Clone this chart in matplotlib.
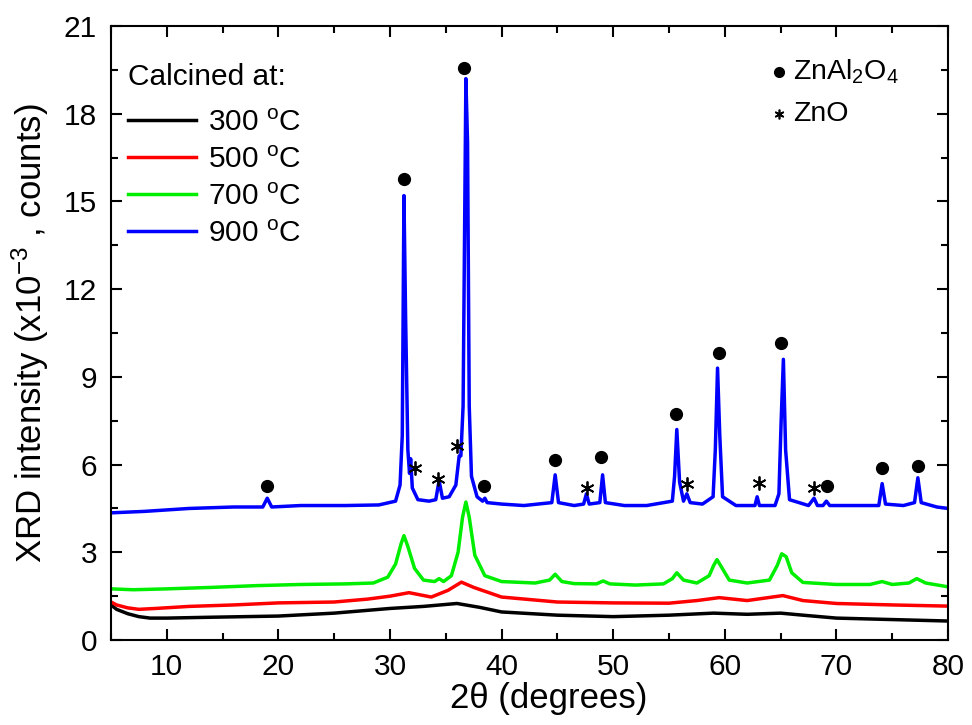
import matplotlib
matplotlib.use("Agg")
import matplotlib.pyplot as plt

plt.rcParams['font.family'] = ['Liberation Sans', 'DejaVu Sans']
plt.rcParams['mathtext.fontset'] = 'custom'
plt.rcParams['mathtext.rm'] = 'Liberation Sans'
plt.rcParams['mathtext.it'] = 'Liberation Sans:italic'

# XRD patterns (2theta in degrees, intensity x10^-3 counts)
x_300 = [5, 5.5, 6.5, 7.5, 8.5, 10, 14, 20, 25, 30, 33, 36, 38, 40, 45, 50, 55, 59, 62, 65, 67, 70, 75, 80]
y_300 = [1.2, 1.05, 0.9, 0.8, 0.75, 0.75, 0.78, 0.82, 0.92, 1.08, 1.15, 1.25, 1.12, 0.96, 0.85, 0.8, 0.85, 0.92, 0.88, 0.92, 0.85, 0.75, 0.7, 0.65]

x_500 = [5, 5.5, 6.5, 7.5, 9, 12, 16, 20, 25, 28, 30, 31.7, 33.7, 35.2, 36.4, 37.5, 40, 45, 50, 55, 57.5, 59.5, 62, 65.2, 67, 70, 75, 80]
y_500 = [1.3, 1.2, 1.1, 1.05, 1.08, 1.15, 1.2, 1.27, 1.3, 1.4, 1.5, 1.62, 1.47, 1.7, 1.98, 1.8, 1.47, 1.3, 1.27, 1.26, 1.35, 1.45, 1.35, 1.52, 1.35, 1.25, 1.2, 1.16]

x_700 = [5, 7, 10, 14, 18, 22, 26, 28.5, 29.8, 30.5, 31.0, 31.25, 31.6, 32.2, 33, 34.0, 34.4, 34.8, 35.5, 36.1, 36.5, 36.8,
         37.1, 37.6, 38.5, 40, 43, 44.3, 44.8, 45.4, 46.5, 48.5, 49.1, 49.7, 52, 54.5, 55.3, 55.7, 56.3, 57.5, 58.6, 59.0,
         59.3, 59.7, 60.4, 62, 64, 64.7, 65.1, 65.5, 66.0, 67, 70, 73, 74.1, 75, 76.5, 77.2, 78, 80]
y_700 = [1.75, 1.72, 1.75, 1.8, 1.86, 1.9, 1.92, 1.95, 2.15, 2.6, 3.3, 3.57, 3.2, 2.45, 2.05, 2.0, 2.1, 2.0, 2.2, 3.0, 4.2, 4.72,
         4.2, 2.9, 2.2, 2.0, 1.95, 2.05, 2.25, 2.0, 1.93, 1.92, 2.02, 1.92, 1.88, 1.92, 2.1, 2.3, 2.05, 1.95, 2.2, 2.55,
         2.75, 2.5, 2.05, 1.95, 2.05, 2.55, 2.95, 2.85, 2.3, 1.97, 1.9, 1.9, 2.0, 1.9, 1.95, 2.1, 1.95, 1.82]

x_900 = [5, 8, 12, 16, 18.6, 19.0, 19.4, 22, 26, 29, 30.5, 30.9, 31.1, 31.25, 31.4, 31.6, 31.75, 31.85, 32.0, 32.5, 33.5,
         34.1, 34.4, 34.7, 35.3, 35.9, 36.2, 36.35, 36.55, 36.8, 36.95, 37.1, 37.3, 37.8, 38.3, 38.5, 38.7, 40, 42, 44.5,
         44.8, 45.1, 46.5, 47.35, 47.6, 47.85, 48.8, 49.05, 49.3, 51, 53, 55.3, 55.5, 55.7, 55.95, 56.3, 56.6, 56.9, 58,
         58.95, 59.15, 59.35, 59.55, 59.8, 61, 62.7, 62.9, 63.1, 64.5, 64.85, 65.05, 65.25, 65.45, 65.8, 67.5, 68.0, 68.3,
         68.8, 69.1, 69.4, 71, 73.8, 74.1, 74.4, 76, 77.0, 77.3, 77.6, 79, 80]
y_900 = [4.35, 4.4, 4.5, 4.55, 4.55, 4.85, 4.55, 4.6, 4.6, 4.62, 4.75, 5.3, 7.0, 15.2, 11.0, 6.5, 5.7, 6.2, 5.2, 4.8, 4.75,
         4.8, 5.45, 4.85, 4.9, 5.3, 6.3, 6.3, 8.0, 19.2, 17.0, 8.0, 5.6, 4.9, 4.75, 4.85, 4.7, 4.65, 4.6, 4.7,
         5.65, 4.7, 4.6, 4.65, 5.0, 4.65, 4.7, 5.65, 4.7, 4.6, 4.6, 4.75, 5.6, 7.2, 5.4, 4.75, 5.0, 4.7, 4.65,
         4.9, 6.5, 9.3, 7.0, 4.9, 4.6, 4.6, 4.9, 4.6, 4.6, 5.0, 7.5, 9.6, 6.5, 4.8, 4.6, 4.85, 4.6,
         4.6, 4.75, 4.6, 4.6, 4.6, 5.35, 4.65, 4.6, 4.7, 5.55, 4.7, 4.55, 4.5]

# phase markers
spinel_x = [19.0, 31.25, 36.65, 38.4, 44.8, 48.9, 55.6, 59.5, 65.0, 69.2, 74.1, 77.3]
spinel_y = [5.27, 15.77, 19.56, 5.27, 6.16, 6.26, 7.73, 9.8, 10.16, 5.27, 5.88, 5.95]
zno_x = [32.2, 34.3, 36.0, 47.65, 56.6, 63.05, 68.0]
zno_y = [5.88, 5.5, 6.63, 5.2, 5.33, 5.37, 5.2]

labels = ['300 $\\mathregular{^{o}}$C', '500 $\\mathregular{^{o}}$C', '700 $\\mathregular{^{o}}$C', '900 $\\mathregular{^{o}}$C']
colors = ['black', 'red', '#00ee00', 'blue']

fig = plt.figure(figsize=(9.72, 7.25), dpi=100)
ax = fig.add_axes([0.1142, 0.1172, 0.8611, 0.8469])

for xs, ys, lab, c in zip([x_300, x_500, x_700, x_900], [y_300, y_500, y_700, y_900], labels, colors):
    ax.plot(xs, ys, color=c, lw=2.5, label=lab)

ax.plot(spinel_x, spinel_y, 'o', color='black', ms=8.5, ls='none')
ax.plot(zno_x, zno_y, marker=(6, 2, 0), color='black', ms=10, mew=1.3, ls='none')

# phase key, top right
ax.plot([64.86], [19.43], 'o', color='black', ms=7)
ax.text(66.1, 19.43, 'ZnAl$\\mathregular{_2}$O$\\mathregular{_4}$', fontsize=20.5, va='center', ha='left')
ax.plot([64.86], [17.99], marker=(6, 2, 0), color='black', ms=7, mew=1.2)
ax.text(66.1, 17.99, 'ZnO', fontsize=20.5, va='center', ha='left')

ax.set_xlim(5, 80)
ax.set_ylim(0, 21)
ax.set_xticks([10, 20, 30, 40, 50, 60, 70, 80])
ax.set_xticks([5, 15, 25, 35, 45, 55, 65, 75], minor=True)
ax.set_yticks([0, 3, 6, 9, 12, 15, 18, 21])
ax.set_yticks([1.5, 4.5, 7.5, 10.5, 13.5, 16.5, 19.5], minor=True)
ax.tick_params(which='both', direction='in', top=True, right=True, width=1.5, labelsize=21.5)
ax.tick_params(which='major', length=8)
ax.tick_params(which='minor', length=5)
ax.tick_params(axis='x', pad=9)
ax.tick_params(axis='y', pad=10)
for s in ax.spines.values():
    s.set_linewidth(1.5)

ax.set_xlabel('2\u03b8 (degrees)', fontsize=25)
ax.xaxis.set_label_coords(0.523, -0.068)
ax.set_ylabel('XRD intensity (x10$\\mathregular{^{-3}}$ , counts)', fontsize=25)
ax.yaxis.set_label_coords(-0.072, 0.5)

# legend title drawn separately so the gap below it matches
ax.text(0.0203, 0.917, 'Calcined at:', transform=ax.transAxes, fontsize=21.5, va='center', ha='left')
leg = ax.legend(loc='upper left', bbox_to_anchor=(-0.005, 0.899), frameon=False,
                fontsize=21.5, handlelength=2.3, handletextpad=0.4,
                labelspacing=0.3, borderaxespad=0.3)

fig.savefig('out.png', dpi=100)
